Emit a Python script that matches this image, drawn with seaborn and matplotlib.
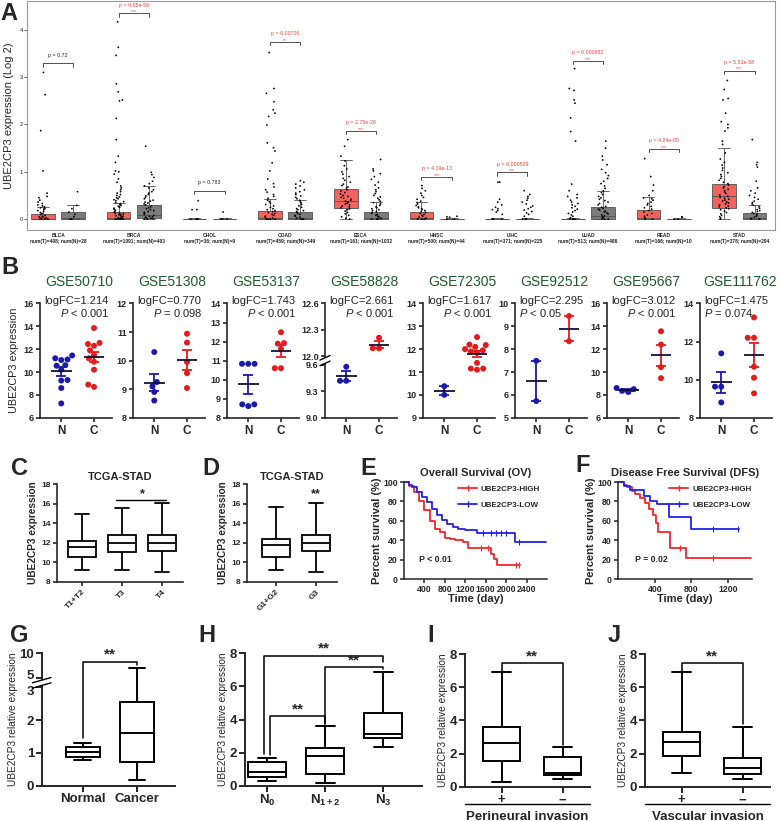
import numpy as np
import pandas as pd
import matplotlib
matplotlib.use("Agg")
import matplotlib.pyplot as plt
from matplotlib.lines import Line2D
from matplotlib.transforms import ScaledTranslation
import seaborn as sns

np.random.seed(3)  # only used by the strip-plot jitter

# ---------------- Panel A: GEPIA tumour vs normal ----------------
cancers = ['BLCA', 'BRCA', 'CHOL', 'COAD', 'ESCA', 'HNSC', 'LIHC', 'LUAD', 'READ', 'STAD']
sample_sizes = ['num(T)=408; num(N)=28', 'num(T)=1091; num(N)=403', 'num(T)=36; num(N)=9',
                'num(T)=459; num(N)=349', 'num(T)=161; num(N)=1032', 'num(T)=500; num(N)=44',
                'num(T)=371; num(N)=225', 'num(T)=513; num(N)=486', 'num(T)=166; num(N)=10',
                'num(T)=378; num(N)=294']
p_labels = ['p = 0.72', 'p = 9.65e-50', 'p = 0.783', 'p = 0.00726', 'p = 2.75e-28',
            'p = 4.19e-13', 'p = 0.000529', 'p = 0.000682', 'p = 4.24e-05', 'p = 5.51e-58']
p_stars = ['', '***', '', '**', '***', '***', '***', '***', '***', '***']
bracket_y = [3.29, 4.35, 0.60, 3.75, 1.87, 0.89, 0.99, 3.35, 1.49, 3.14]

# box stats: [low whisker, Q1, median, Q3, high whisker]
tumor_box = [[0, 0, 0.01, 0.10, 0.25], [0, 0, 0.02, 0.14, 0.35], [0, 0, 0, 0.01, 0.02],
             [0, 0, 0.02, 0.17, 0.42], [0, 0.23, 0.38, 0.64, 1.25], [0, 0, 0.02, 0.15, 0.37],
             [0, 0, 0, 0.01, 0.02], [0, 0, 0, 0.01, 0.02], [0, 0, 0.03, 0.19, 0.47],
             [0, 0.23, 0.48, 0.74, 1.50]]
normal_box = [[0, 0, 0.02, 0.14, 0.30], [0, 0.02, 0.08, 0.29, 0.70], [0, 0, 0, 0.01, 0.02],
              [0, 0, 0.03, 0.16, 0.40], [0, 0, 0.03, 0.15, 0.37], [0, 0, 0, 0.01, 0.02],
              [0, 0, 0, 0.01, 0.02], [0, 0.01, 0.06, 0.25, 0.60], [0, 0, 0, 0.01, 0.02],
              [0, 0, 0.02, 0.12, 0.30]]

tumor_pts = {
    'BLCA': [3.10, 2.63, 1.87, 1.02, 0.55, 0.48, 0.45, 0.40, 0.36, 0.33, 0.30, 0.28, 0.26, 0.24, 0.22,
             0.20, 0.18, 0.16, 0.14, 0.12, 0.10, 0.08, 0.06, 0.05, 0.04, 0.03, 0.02, 0.01, 0, 0, 0, 0],
    'BRCA': [4.17, 3.63, 3.46, 2.86, 2.69, 2.52, 2.50, 2.13, 1.68, 1.33, 1.20, 1.02, 1.00, 0.95, 0.85,
             0.78, 0.70, 0.66, 0.62, 0.58, 0.55, 0.52, 0.50, 0.47, 0.45, 0.43, 0.41, 0.39, 0.37, 0.35,
             0.33, 0.31, 0.29, 0.27, 0.25, 0.23, 0.21, 0.19, 0.17, 0.15, 0.14, 0.13, 0.12, 0.11, 0.10,
             0.09, 0.08, 0.07, 0.06, 0.05, 0.04, 0.03, 0.02, 0.01, 0, 0, 0, 0, 0, 0],
    'CHOL': [0.39, 0.20, 0.20, 0, 0, 0, 0],
    'COAD': [3.52, 2.76, 2.66, 2.48, 2.31, 2.24, 2.17, 1.99, 1.61, 1.51, 1.44, 1.19, 1.02, 0.85, 0.75,
             0.68, 0.62, 0.57, 0.52, 0.48, 0.44, 0.40, 0.37, 0.34, 0.31, 0.28, 0.25, 0.22, 0.20, 0.18,
             0.16, 0.14, 0.12, 0.10, 0.08, 0.06, 0.04, 0.02, 0, 0, 0, 0],
    'ESCA': [1.68, 1.54, 1.33, 1.23, 1.13, 1.06, 1.00, 0.95, 0.90, 0.86, 0.82, 0.78, 0.74, 0.71, 0.68,
             0.65, 0.62, 0.59, 0.56, 0.53, 0.50, 0.48, 0.46, 0.44, 0.42, 0.40, 0.38, 0.36, 0.34, 0.32,
             0.30, 0.28, 0.26, 0.24, 0.22, 0.20, 0.17, 0.14, 0.11, 0.08, 0.05, 0.02, 0],
    'HNSC': [0.71, 0.65, 0.60, 0.55, 0.50, 0.46, 0.42, 0.38, 0.35, 0.32, 0.29, 0.26, 0.24, 0.22, 0.20,
             0.18, 0.16, 0.14, 0.12, 0.10, 0.08, 0.06, 0.04, 0.02, 0, 0, 0],
    'LIHC': [0.78, 0.78, 0.42, 0.36, 0.30, 0.25, 0.22, 0.20, 0.18, 0.15, 0.10, 0, 0, 0, 0],
    'LUAD': [3.18, 2.76, 2.72, 2.52, 2.45, 2.14, 1.85, 1.65, 0.74, 0.60, 0.52, 0.48, 0.45, 0.40, 0.36,
             0.33, 0.30, 0.27, 0.24, 0.21, 0.18, 0.15, 0.12, 0.09, 0.06, 0.03, 0, 0, 0, 0, 0],
    'READ': [1.28, 0.90, 0.72, 0.60, 0.50, 0.45, 0.43, 0.40, 0.36, 0.33, 0.30, 0.27, 0.24, 0.21, 0.18,
             0.15, 0.12, 0.09, 0.06, 0.03, 0, 0],
    'STAD': [2.93, 2.74, 2.55, 2.52, 2.24, 2.06, 2.00, 1.93, 1.86, 1.65, 1.58, 1.40, 1.27, 1.20, 1.14,
             1.08, 1.03, 0.98, 0.94, 0.90, 0.86, 0.82, 0.78, 0.75, 0.72, 0.69, 0.66, 0.63, 0.60, 0.57,
             0.54, 0.51, 0.48, 0.46, 0.44, 0.42, 0.40, 0.38, 0.36, 0.34, 0.32, 0.30, 0.28, 0.26, 0.24,
             0.22, 0.20, 0.17, 0.14, 0.11, 0.08, 0.05, 0.02, 0],
}
normal_pts = {
    'BLCA': [0.58, 0.29, 0.22, 0.15, 0.10, 0.05, 0, 0],
    'BRCA': [1.54, 0.99, 0.94, 0.88, 0.80, 0.75, 0.70, 0.66, 0.62, 0.58, 0.55, 0.52, 0.49, 0.46, 0.43,
             0.40, 0.38, 0.36, 0.34, 0.32, 0.30, 0.28, 0.26, 0.24, 0.22, 0.20, 0.18, 0.16, 0.14, 0.12,
             0.10, 0.08, 0.06, 0.05, 0.04, 0.03, 0.02, 0.01, 0, 0],
    'CHOL': [0.15, 0, 0, 0],
    'COAD': [0.81, 0.78, 0.74, 0.70, 0.66, 0.62, 0.58, 0.55, 0.52, 0.49, 0.46, 0.43, 0.40, 0.37, 0.34,
             0.31, 0.28, 0.25, 0.22, 0.20, 0.18, 0.16, 0.14, 0.12, 0.10, 0.08, 0.06, 0.04, 0.02, 0, 0, 0],
    'ESCA': [1.26, 1.06, 1.02, 0.96, 0.90, 0.84, 0.78, 0.72, 0.66, 0.62, 0.58, 0.54, 0.50, 0.47, 0.44,
             0.41, 0.38, 0.35, 0.32, 0.29, 0.26, 0.24, 0.22, 0.20, 0.18, 0.16, 0.14, 0.12, 0.10, 0.08,
             0.06, 0.04, 0.02, 0, 0, 0, 0],
    'HNSC': [0.06, 0.05, 0.04, 0, 0],
    'LIHC': [0.60, 0.52, 0.48, 0.44, 0.40, 0.36, 0.32, 0.28, 0.25, 0.22, 0.19, 0.16, 0.13, 0.10, 0.06,
             0, 0, 0, 0],
    'LUAD': [1.65, 1.50, 1.33, 1.25, 1.15, 1.05, 0.98, 0.92, 0.86, 0.80, 0.75, 0.70, 0.65, 0.60, 0.56,
             0.52, 0.48, 0.45, 0.42, 0.39, 0.36, 0.33, 0.30, 0.27, 0.25, 0.23, 0.21, 0.19, 0.17, 0.15,
             0.13, 0.11, 0.09, 0.07, 0.05, 0.03, 0.01, 0, 0],
    'READ': [0.05, 0.04, 0, 0],
    'STAD': [1.68, 1.20, 1.15, 1.10, 0.80, 0.66, 0.60, 0.55, 0.50, 0.46, 0.42, 0.38, 0.35, 0.32, 0.29,
             0.26, 0.23, 0.20, 0.18, 0.16, 0.14, 0.12, 0.10, 0.08, 0.06, 0.04, 0.02, 0, 0, 0],
}

# ---------------- Panel B: GEO datasets ----------------
gse_ids = ['GSE50710', 'GSE51308', 'GSE53137', 'GSE58828', 'GSE72305', 'GSE92512', 'GSE95667', 'GSE111762']
gse_logfc = ['logFC=1.214', 'logFC=0.770', 'logFC=1.743', 'logFC=2.661', 'logFC=1.617', 'logFC=2.295',
             'logFC=3.012', 'logFC=1.475']
gse_p = ['$P$ < 0.001', '$P$ = 0.098', '$P$ < 0.001', '$P$ < 0.001', '$P$ < 0.001', '$P$ < 0.05',
         '$P$ < 0.001', '$P$ = 0.074']
gse_normal = [[11.45, 11.2, 11.1, 11.05, 10.6, 10.55, 10.2, 9.3, 9.25, 8.6, 7.25],
              [10.3, 9.25, 9.1, 8.9, 8.6],
              [10.83, 10.83, 10.83, 8.7, 8.61, 8.7],
              [9.58, 9.42, 9.42],
              [10.38, 10.0],
              [7.49, 5.73],
              [8.6, 8.35, 8.25, 8.5],
              [11.38, 9.63, 9.63, 8.8]]
gse_cancer = [[13.85, 12.55, 12.45, 12.3, 11.9, 11.5, 11.2, 10.9, 10.2, 8.9, 8.7],
              [10.94, 10.63, 9.95, 9.56, 9.04],
              [12.49, 11.89, 11.92, 11.62, 10.6, 10.6],
              [12.21, 12.09, 12.09],
              [12.53, 12.2, 12.18, 12.1, 12.0, 11.95, 11.9, 11.85, 11.4, 11.15, 11.15, 11.1],
              [9.45, 8.35],
              [13.57, 12.4, 10.43, 9.46],
              [13.27, 12.2, 12.2, 10.68, 10.1, 9.28]]
gse_yticks = [[6, 8, 10, 12, 14, 16], [8, 9, 10, 11, 12], [8, 9, 10, 11, 12, 13, 14],
              [9.0, 9.3, 9.6, 12.0, 12.3, 12.6], [9, 10, 11, 12, 13, 14], [5, 6, 7, 8, 9, 10],
              [6, 8, 10, 12, 14, 16], [8, 10, 12, 14]]

# ---------------- Panels C, D: TCGA-STAD boxes [min, Q1, median, Q3, max] ----------------
t_stage = ['T1+T2', 'T3', 'T4']
t_stage_box = [[9.25, 10.6, 11.53, 12.2, 14.95], [9.25, 11.05, 12.03, 12.75, 15.6],
               [8.98, 11.2, 11.97, 12.75, 16.1]]
grade = ['G1+G2', 'G3']
grade_box = [[9.25, 10.6, 11.73, 12.4, 15.7], [8.98, 11.12, 11.97, 12.8, 16.1]]

# ---------------- Panels E, F: Kaplan-Meier ----------------
os_high_t = [0, 100, 200, 300, 400, 500, 600, 700, 800, 900, 1000, 1150, 1250, 1700, 1760, 1830, 2270]
os_high_s = [100, 96, 90, 80, 71, 60, 52, 48, 42, 41, 40, 38, 32, 26, 21, 14, 14]
os_low_t = [0, 100, 150, 250, 350, 450, 550, 650, 750, 850, 950, 1050, 1200, 1420, 2180, 2780]
os_low_s = [100, 97, 95, 90, 85, 79, 72, 66, 61, 57, 54, 52, 51, 47.5, 38.5, 38.5]
os_high_cens = [1500, 1650, 2200, 2260]
os_low_cens = [1550, 1700, 1800, 1900, 2000, 2250]
dfs_high_t = [0, 60, 100, 150, 190, 240, 290, 340, 380, 410, 440, 570, 740, 1450]
dfs_high_s = [100, 97, 95, 91, 88, 83, 78, 72, 66, 58, 48.6, 31.5, 21.2, 21.2]
dfs_low_t = [0, 60, 130, 280, 350, 420, 560, 800, 1320]
dfs_low_s = [100, 96, 92, 86, 80, 77.7, 64, 51.4, 51.4]
dfs_high_cens = [680, 1040]
dfs_low_cens = [1040, 1310]

# ---------------- Panels G-J: qPCR boxes [min, Q1, median, Q3, max] ----------------
tissue = ['Normal', 'Cancer']
tissue_box = [[0.78, 0.885, 1.04, 1.17, 1.29], [0.17, 0.71, 1.6, 2.56, 7.13]]
n_stage = ['N$_\\mathbf{0}$', 'N$_\\mathbf{1+2}$', 'N$_\\mathbf{3}$']
n_stage_box = [[0.3, 0.54, 0.85, 1.41, 1.69], [0.14, 0.71, 1.81, 2.26, 3.61],
               [2.36, 2.87, 3.13, 4.42, 6.89]]
invasion = ['+', '\u2212']
perineural_box = [[0.3, 1.55, 2.65, 3.62, 6.9], [0.44, 0.7, 0.84, 1.77, 2.37]]
vascular_box = [[0.84, 1.85, 2.67, 3.32, 6.9], [0.44, 0.76, 1.15, 1.73, 3.62]]

# ---------------- style ----------------
sns.set_style('ticks')
plt.rcParams['font.family'] = ['Liberation Sans', 'DejaVu Sans']
plt.rcParams['mathtext.fontset'] = 'custom'
plt.rcParams['mathtext.rm'] = 'Liberation Sans'
plt.rcParams['mathtext.it'] = 'Liberation Sans:italic'
plt.rcParams['mathtext.bf'] = 'Liberation Sans:bold'

RED = '#E41A1C'
BLUE = '#1A1AA8'
KM_RED = '#F2262B'
KM_BLUE = '#2222E6'

W, H = 780, 821
fig = plt.figure(figsize=(W / 100, H / 100), dpi=100)


def add_ax(x0, y0, x1, y1):
    return fig.add_axes([x0 / W, 1 - y1 / H, (x1 - x0) / W, (y1 - y0) / H])


def ftext(x, y, s, **kw):
    fig.text(x / W, 1 - y / H, s, **kw)


def prism(ax, lw=1.3, size=7, length=3.5):
    sns.despine(ax=ax)
    for sp in ['left', 'bottom']:
        ax.spines[sp].set_linewidth(lw)
    ax.tick_params(width=lw, length=length, labelsize=size, pad=1.5)
    for lab in ax.get_xticklabels() + ax.get_yticklabels():
        lab.set_fontweight('bold')


def piecewise(lo, hi, gap, k=1.0):
    # broken axis: slope 1 below lo, squeezed gap between lo and hi, slope k above hi
    xp = [lo - 100, lo, hi, hi + 100]
    fp = [lo - 100, lo, lo + gap, lo + gap + 100 * k]

    def fwd(v):
        return np.interp(v, xp, fp)

    def inv(u):
        return np.interp(u, fp, xp)
    return fwd, inv


def axis_break(ax, lo, hi):
    f = ax.transAxes.inverted().transform
    y_lo = f(ax.transData.transform((0, lo)))[1]
    y_hi = f(ax.transData.transform((0, hi)))[1]
    ax.plot([0, 0], [y_lo + 0.012, y_hi - 0.012], transform=ax.transAxes, color='white', lw=3,
            clip_on=False, zorder=6, solid_capstyle='butt')
    for yy in (y_lo + 0.014, y_hi - 0.014):
        ax.plot([-0.07, 0.07], [yy - 0.02, yy + 0.02], transform=ax.transAxes, color='black',
                lw=1.0, clip_on=False, zorder=7)


def box_df(cats, stats):
    rows = [(c, v) for c, s in zip(cats, stats) for v in s]
    return pd.DataFrame(rows, columns=['cat', 'val'])


def prism_box(ax, cats, stats, width=0.65, lw=1.3):
    sns.boxplot(data=box_df(cats, stats), x='cat', y='val', order=cats, whis=(0, 100), width=width,
                color='white', linecolor='black', linewidth=lw, saturation=1, showfliers=False, ax=ax)
    ax.set_xlabel('')
    ax.set_ylabel('')


def bracket(ax, x1, x2, y, low1, low2, text, fs=10, lw=1.1, dy=0.0):
    ax.plot([x1, x1, x2, x2], [low1, y, y, low2], color='black', lw=lw, clip_on=False)
    ax.text((x1 + x2) / 2, y + dy, text, ha='center', va='bottom', fontsize=fs, fontweight='bold')


# ======================= Panel A =======================
axA = add_ax(27, 1, 775, 230)
rows = []
for c, tb, nb in zip(cancers, tumor_box, normal_box):
    rows += [(c, 'Tumor', v) for v in tb] + [(c, 'Normal', v) for v in nb]
boxA = pd.DataFrame(rows, columns=['cancer', 'group', 'value'])
rows = []
for c in cancers:
    rows += [(c, 'Tumor', v) for v in tumor_pts[c]] + [(c, 'Normal', v) for v in normal_pts[c]]
ptsA = pd.DataFrame(rows, columns=['cancer', 'group', 'value'])

sns.boxplot(data=boxA, x='cancer', y='value', hue='group', order=cancers, hue_order=['Tumor', 'Normal'],
            palette={'Tumor': '#F3625D', 'Normal': '#7B7B7B'}, whis=(0, 100), width=0.8, gap=0.22,
            linewidth=0.6, linecolor='#505050', saturation=1, showfliers=False, legend=False, ax=axA)
sns.stripplot(data=ptsA, x='cancer', y='value', hue='group', order=cancers, hue_order=['Tumor', 'Normal'],
              palette={'Tumor': 'black', 'Normal': 'black'}, dodge=True, jitter=0.14, size=1.3,
              legend=False, ax=axA, zorder=3)
for i, (p, st, yb) in enumerate(zip(p_labels, p_stars, bracket_y)):
    col = '#E8443E' if st else '#222222'
    axA.plot([i - 0.2, i - 0.2, i + 0.2, i + 0.2], [yb - 0.07, yb, yb, yb - 0.07], color='#333333', lw=0.6)
    axA.text(i, yb + 0.12, p, fontsize=3.8, color=col, ha='center', va='bottom')
    if st:
        axA.text(i, yb - 0.02, st, fontsize=3.6, color=col, ha='center', va='bottom')
axA.set_xlim(-0.41, 9.47)
axA.set_ylim(-0.23, 4.61)
axA.set_yticks([0, 1, 2, 3, 4])
axA.set_xticks(range(10))
axA.set_xticklabels([f'{c}\n{n}' for c, n in zip(cancers, sample_sizes)], fontsize=3.5,
                    fontweight='bold', color='#222222', linespacing=1.3)
axA.tick_params(axis='y', labelsize=4.2, length=2, width=0.5, pad=1)
axA.tick_params(axis='x', length=0, pad=2)
for sp in axA.spines.values():
    sp.set_color('#9A9A9A')
    sp.set_linewidth(0.8)
axA.set_xlabel('')
axA.set_ylabel('UBE2CP3 expression (Log 2)', fontsize=8, labelpad=4)

# ======================= Panel B =======================
b_left = [40, 133, 227, 325, 423, 515, 607, 700]
for k in range(8):
    ax = add_ax(b_left[k], 303.5, b_left[k] + 72, 417.7)
    yt = gse_yticks[k]
    if k == 3:
        fwd, inv = piecewise(9.6, 12.0, 0.1)
        ax.set_yscale('function', functions=(fwd, inv))
    ax.set_ylim(yt[0], yt[-1])
    ax.set_xlim(-0.65, 1.55)
    N, C = gse_normal[k], gse_cancer[k]
    dfk = pd.DataFrame({'grp': ['N'] * len(N) + ['C'] * len(C), 'val': N + C})
    sns.swarmplot(data=dfk, x='grp', y='val', hue='grp', order=['N', 'C'], palette={'N': BLUE, 'C': RED},
                  size=4.3, legend=False, ax=ax, zorder=3)
    for pos, vals, col in ((0, N, BLUE), (1, C, RED)):
        m = np.mean(vals)
        se = np.std(vals, ddof=1) / np.sqrt(len(vals))
        ax.errorbar(pos, m, yerr=se, color=col, capsize=3.5, elinewidth=1.3, capthick=1.3, zorder=4)
        ax.hlines(m, pos - 0.32, pos + 0.32, color='#111133', lw=1.3, zorder=5)
    ax.set_xlim(-0.65, 1.55)
    ax.set_ylim(yt[0], yt[-1])
    ax.set_yticks(yt)
    ax.set_yticklabels([f'{v:.1f}' if k == 3 else f'{v:g}' for v in yt])
    ax.set_xlabel('')
    ax.set_ylabel('')
    prism(ax, lw=1.2, size=6.5, length=3)
    ax.tick_params(axis='x', labelsize=8.5, pad=2)
    ax.text(0.55, 1.19, gse_ids[k], transform=ax.transAxes, ha='center', va='center', fontsize=10,
            color='#1F5A2A')
    ax.text(0.5, 1.02, gse_logfc[k], transform=ax.transAxes, ha='center', va='center', fontsize=8,
            color='#222222')
    if k in (5, 7):
        ax.text(0.06, 0.92, gse_p[k], transform=ax.transAxes, ha='left', va='center', fontsize=8,
                color='#222222')
    else:
        ax.text(0.97, 0.92, gse_p[k], transform=ax.transAxes, ha='right', va='center', fontsize=8,
                color='#222222')
    if k == 3:
        axis_break(ax, 9.6, 12.0)
    if k == 0:
        ax.set_ylabel('UBE2CP3 expression', fontsize=7.8, labelpad=3)

# ======================= Panels C, D =======================
for (x0, x1), cats, stats, xl in (((57, 183), t_stage, t_stage_box, (-0.62, 2.52)),
                                  ((247, 337), grade, grade_box, (-0.72, 1.52))):
    ax = add_ax(x0, 484, x1, 582)
    prism_box(ax, cats, stats, width=0.68)
    ax.set_xlim(*xl)
    ax.set_ylim(8, 18)
    ax.set_yticks([8, 10, 12, 14, 16, 18])
    prism(ax, lw=1.2, size=6, length=3)
    ax.tick_params(axis='x', rotation=45)
    for lab in ax.get_xticklabels():
        lab.set_ha('right')
        lab.set_rotation_mode('anchor')
    ax.set_title('TCGA-STAD', fontsize=8, fontweight='bold', pad=3)
    ax.set_ylabel('UBE2CP3 expression', fontsize=7.3, fontweight='bold', labelpad=2)
    if len(cats) == 3:
        ax.plot([0.85, 2.1], [16.35, 16.35], color='black', lw=1.0)
        ax.text(1.5, 16.3, '*', ha='center', va='bottom', fontsize=9, fontweight='bold')
    else:
        ax.text(1, 16.3, '**', ha='center', va='bottom', fontsize=9, fontweight='bold')


# ======================= Panels E, F =======================
def step_value(ts, ss, t):
    idx = np.searchsorted(ts, t, side='right') - 1
    return ss[idx]


def km_panel(ax, curves, xmax, xticks, title, ptext, ptx):
    for ts, ss, cens, col in curves:
        sns.lineplot(x=ts, y=ss, drawstyle='steps-post', color=col, lw=1.3, estimator=None, sort=False,
                     ax=ax, clip_on=False)
        cy = [step_value(ts, ss, t) for t in cens]
        sns.scatterplot(x=cens, y=cy, marker='|', s=14, color=col, linewidth=0.8, ax=ax, zorder=4)
    ax.set_xlim(0, xmax)
    ax.set_ylim(0, 100)
    ax.set_xticks(xticks)
    ax.set_yticks([0, 20, 40, 60, 80, 100])
    prism(ax, lw=1.1, size=6.3, length=3)
    ax.set_xlabel('Time (day)', fontsize=8, fontweight='bold', labelpad=0)
    ax.set_ylabel('Percent survival (%)', fontsize=8, fontweight='bold', labelpad=1)
    ax.set_title(title, fontsize=8, fontweight='bold', pad=4)
    ax.text(ptx, 20, ptext, fontsize=6.3, fontweight='bold', va='center')
    handles = [Line2D([0], [0], color=KM_RED, lw=1.3, marker='|', markersize=4),
               Line2D([0], [0], color=KM_BLUE, lw=1.3, marker='|', markersize=4)]
    ax.legend(handles, ['UBE2CP3-HIGH', 'UBE2CP3-LOW'], loc='upper left', bbox_to_anchor=(0.33, 1.04),
              frameon=False, prop={'weight': 'bold', 'size': 5.8}, handlelength=2.3, labelspacing=1.0,
              handletextpad=0.5)


axE = add_ax(404, 482, 547, 579)
km_panel(axE, [(os_high_t, os_high_s, os_high_cens, KM_RED), (os_low_t, os_low_s, os_low_cens, KM_BLUE)],
         2800, [400, 800, 1200, 1600, 2000, 2400], 'Overall Survival (OV)', 'P < 0.01', 300)
axF = add_ax(618, 482, 752, 579)
km_panel(axF, [(dfs_high_t, dfs_high_s, dfs_high_cens, KM_RED), (dfs_low_t, dfs_low_s, dfs_low_cens, KM_BLUE)],
         1460, [400, 800, 1200], 'Disease Free Survival (DFS)', 'P = 0.02', 190)

# ======================= Panels G-J =======================
YL = 'UBE2CP3 relative expression'

axG = add_ax(41.7, 653.3, 175, 785.7)
fwdG, invG = piecewise(3.0, 5.0, 0.275, 0.1526)
axG.set_yscale('function', functions=(fwdG, invG))
axG.set_ylim(0, 10)
prism_box(axG, tissue, tissue_box, width=0.62, lw=1.4)
axG.set_xlim(-0.76, 1.7)
axG.set_ylim(0, 10)
axG.set_yticks([0, 1, 2, 3, 5, 10])
prism(axG, lw=1.4, size=9.5, length=4)
# nudge the two labels that sit either side of the break
for lab, dy in zip(axG.get_yticklabels(), [0, 0, 0, -2, 3, 0]):
    lab.set_transform(lab.get_transform() + ScaledTranslation(0, dy / 72, fig.dpi_scale_trans))
axG.set_ylabel(YL, fontsize=7.3, labelpad=1)
axis_break(axG, 3.0, 5.0)
bracket(axG, 0, 1, 8.33, 1.44, 7.67, '**', fs=11)

axH = add_ax(245, 653.3, 422, 785.7)
prism_box(axH, n_stage, n_stage_box, width=0.65, lw=1.4)
axH.set_xlim(-0.38, 2.67)
axH.set_ylim(0, 8)
axH.set_yticks([0, 2, 4, 6, 8])
prism(axH, lw=1.4, size=9.5, length=4)
axH.set_ylabel(YL, fontsize=7.3, labelpad=1)
bracket(axH, -0.05, 2.0, 7.84, 1.9, 7.5, '**', fs=11)
bracket(axH, 1.0, 2.0, 7.16, 3.75, 7.05, '**', fs=11)
bracket(axH, 0.05, 1.0, 4.21, 1.85, 3.75, '**', fs=11)

for (x0, x1), stats, lab in (((465, 590), perineural_box, 'Perineural invasion'),
                             ((645, 770), vascular_box, 'Vascular invasion')):
    ax = add_ax(x0, 654, x1, 786.7)
    prism_box(ax, invasion, stats, width=0.6, lw=1.4)
    ax.set_xlim(-0.6, 1.45)
    ax.set_ylim(0, 8)
    ax.set_yticks([0, 2, 4, 6, 8])
    prism(ax, lw=1.4, size=9.5, length=4)
    ax.set_ylabel(YL, fontsize=7.3, labelpad=1)
    bracket(ax, 0, 1, 7.44, 6.95, stats[1][4] + 0.15, '**', fs=11)
    ax.plot([0, 1], [-0.13, -0.13], transform=ax.transAxes, color='black', lw=1.0, clip_on=False)
    ax.text(0.5, -0.225, lab, transform=ax.transAxes, ha='center', va='center', fontsize=9.5,
            fontweight='bold')

# ======================= panel letters =======================
for letter, x, y in (('A', 9, 13), ('B', 10, 268), ('C', 19, 468), ('D', 211, 468), ('E', 368, 468),
                     ('F', 583, 465), ('G', 19, 636), ('H', 207, 636), ('I', 431, 636), ('J', 614, 636)):
    ftext(x, y, letter, fontsize=17, fontweight='bold', ha='center', va='center')

fig.savefig('out.png', dpi=100)
